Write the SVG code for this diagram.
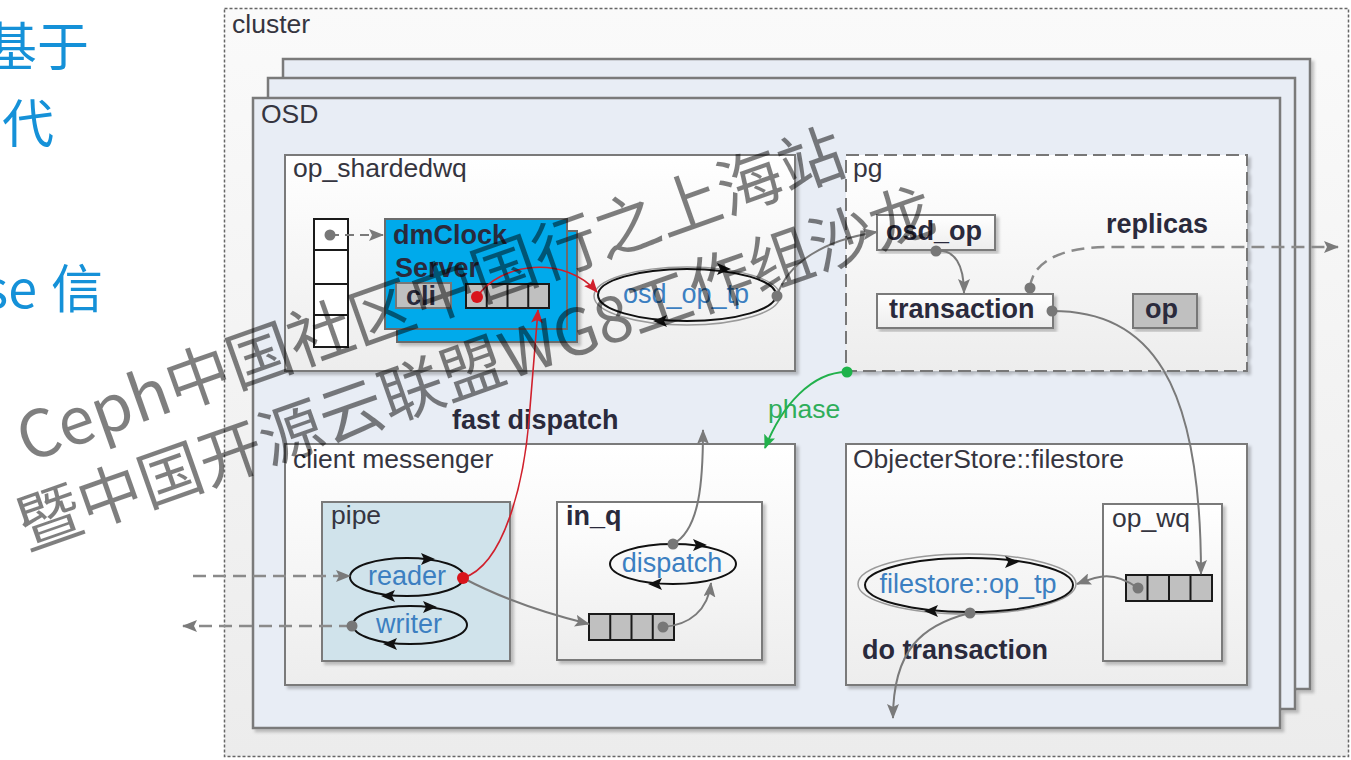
<svg xmlns="http://www.w3.org/2000/svg" xmlns:xlink="http://www.w3.org/1999/xlink" width="1351" height="760" viewBox="0 0 1351 760">
<style>
.lbl{font-family:"Liberation Sans",Arial,sans-serif;font-size:26.5px;fill:#353540}
.b{font-weight:bold;font-size:27px;fill:#2a2a3c}
.tp{fill:#3c7fc1;font-size:27px;text-anchor:middle}
.box{fill:url(#gBox);stroke:#7a7a7a;stroke-width:2}
.osd{fill:#e8edf5;stroke:#7a7a7a;stroke-width:2.5}
.q{fill:#c0c0c0;stroke:#1a1a1a;stroke-width:2}
.qw{fill:#fff;stroke:#1a1a1a;stroke-width:2}
.con{fill:none;stroke:#7a7a7a;stroke-width:2}
.dash{stroke-dasharray:13 7;stroke:#8a8a8a;stroke-width:2.5}
.ell{fill:none;stroke:#111;stroke-width:2}
.halo{fill:none;stroke:#9a9a9a;stroke-width:1.5}
.side{font-family:"Noto Sans CJK SC","Noto Sans",sans-serif;font-size:52px;fill:#1591d8}
.wm{font-family:"Noto Sans CJK SC",sans-serif;font-size:64px;fill:#000;fill-opacity:.5}
</style>
<defs>
  <linearGradient id="gCluster" x1="0" y1="0" x2="0" y2="1">
    <stop offset="0" stop-color="#fafafa"/><stop offset="1" stop-color="#ececec"/>
  </linearGradient>
  <linearGradient id="gBox" x1="0" y1="0" x2="0" y2="1">
    <stop offset="0" stop-color="#ffffff"/><stop offset="1" stop-color="#ededed"/>
  </linearGradient>
  <filter id="sh" x="-5%" y="-5%" width="115%" height="115%">
    <feDropShadow dx="3" dy="3" stdDeviation="1.5" flood-color="#000" flood-opacity="0.22"/>
  </filter>
  <marker id="mg" markerUnits="userSpaceOnUse" markerWidth="15" markerHeight="12" refX="14" refY="6" orient="auto">
    <path d="M0,0 L15,6 L0,12 L3,6 Z" fill="#7a7a7a"/>
  </marker>
  <marker id="mr" markerUnits="userSpaceOnUse" markerWidth="14" markerHeight="12" refX="13" refY="6" orient="auto">
    <path d="M0,0 L14,6 L0,12 L3,6 Z" fill="#d0202c"/>
  </marker>
  <marker id="mgr" markerUnits="userSpaceOnUse" markerWidth="14" markerHeight="12" refX="13" refY="6" orient="auto">
    <path d="M0,0 L14,6 L0,12 L3,6 Z" fill="#22b14c"/>
  </marker>
  <path id="hR" d="M7,0 L-7,-6 L-4,0 L-7,6 Z" fill="#111"/>
  <path id="hL" d="M-7,0 L7,-6 L4,0 L7,6 Z" fill="#111"/>
</defs>

<rect width="1351" height="760" fill="#fff"/>

<!-- partially visible slide text on the left -->
<g id="side-text">
  <text class="side" x="-15" y="66">基于</text>
  <text class="side" x="2" y="143">代</text>
  <text class="side" x="37" y="308" text-anchor="end">se</text>
  <text class="side" x="51" y="308">信</text>
</g>

<g id="cluster">
  <rect x="224.5" y="8.5" width="1124" height="748" fill="url(#gCluster)" stroke="#666" stroke-width="1.5" stroke-dasharray="3 2"/>
  <text class="lbl" x="232" y="33">cluster</text>
</g>

<g id="osd" filter="url(#sh)">
  <rect class="osd" x="283" y="59" width="1027" height="630"/>
  <rect class="osd" x="268" y="78" width="1027" height="631"/>
  <rect class="osd" x="253" y="98" width="1027" height="630"/>
</g>
<text class="lbl" x="261" y="123">OSD</text>

<g id="op_shardedwq">
  <rect class="box" x="285" y="155" width="510" height="216" filter="url(#sh)"/>
  <text class="lbl" x="293" y="177">op_shardedwq</text>
  <g id="shard-queue">
    <rect class="qw" x="314" y="219" width="34" height="128"/>
    <path d="M314,250H348M314,284H348M314,315H348" stroke="#1a1a1a" stroke-width="2"/>
  </g>
  <g id="dmclock">
    <rect x="397" y="231" width="180" height="111" fill="#00aaeb" stroke="#6b6b6b" stroke-width="2" filter="url(#sh)"/>
    <rect x="385" y="219" width="182" height="110" fill="#00aaeb" stroke="#6b6b6b" stroke-width="2"/>
    <text class="lbl b" x="393" y="244">dmClock</text>
    <text class="lbl b" x="395" y="277">Server</text>
    <rect x="396" y="283" width="55" height="25" fill="#c0c0c0" stroke="#777" stroke-width="2"/>
    <text class="lbl b" x="406" y="305">cli</text>
    <rect class="q" x="466" y="284" width="83" height="24"/>
    <path d="M486.75,284V308M507.5,284V308M528.25,284V308" stroke="#1a1a1a" stroke-width="2"/>
  </g>
  <g id="osd_op_tp">
    <ellipse class="halo" cx="687" cy="296" rx="93" ry="29"/>
    <ellipse class="ell" cx="687" cy="295" rx="89" ry="26"/>
    <use xlink:href="#hR" x="724" y="269"/>
    <use xlink:href="#hL" x="660" y="321"/>
    <text class="lbl tp" x="686" y="303">osd_op_tp</text>
  </g>
</g>

<g id="pg">
  <rect x="846" y="155" width="401" height="216" fill="url(#gBox)" stroke="#777" stroke-width="2" stroke-dasharray="13 6" filter="url(#sh)"/>
  <text class="lbl" x="853" y="177">pg</text>
  <g id="osd_op">
    <rect class="box" x="877" y="215" width="118" height="35" filter="url(#sh)"/>
    <text class="lbl b" x="886" y="240">osd_op</text>
  </g>
  <g id="transaction">
    <rect class="box" x="877" y="294" width="176" height="34" filter="url(#sh)"/>
    <text class="lbl b" x="889" y="318">transaction</text>
  </g>
  <g id="op">
    <rect x="1133" y="294" width="64" height="34" fill="#c0c0c0" stroke="#777" stroke-width="2" filter="url(#sh)"/>
    <text class="lbl b" x="1145" y="318">op</text>
  </g>
  <text class="lbl b" x="1106" y="233">replicas</text>
</g>

<g id="client_messenger">
  <rect class="box" x="285" y="444" width="510" height="241" filter="url(#sh)"/>
  <text class="lbl" x="293" y="468">client messenger</text>
  <g id="pipe">
    <rect x="322" y="502" width="188" height="159" fill="#d0e3eb" stroke="#7a7a7a" stroke-width="2" filter="url(#sh)"/>
    <text class="lbl" x="331" y="524">pipe</text>
    <g id="reader">
      <ellipse class="ell" cx="407" cy="577" rx="57" ry="19"/>
      <use xlink:href="#hR" x="428" y="559"/>
      <use xlink:href="#hL" x="388" y="596"/>
      <text class="lbl tp" x="407" y="585">reader</text>
    </g>
    <g id="writer">
      <ellipse class="ell" cx="410" cy="625" rx="57" ry="19"/>
      <use xlink:href="#hR" x="430" y="607"/>
      <use xlink:href="#hL" x="390" y="644"/>
      <text class="lbl tp" x="409" y="633">writer</text>
    </g>
  </g>
  <g id="in_q">
    <rect class="box" x="557" y="502" width="205" height="158" filter="url(#sh)"/>
    <text class="lbl b" x="566" y="525">in_q</text>
    <g id="dispatch">
      <ellipse class="ell" cx="673" cy="564" rx="63" ry="20"/>
      <use xlink:href="#hR" x="700" y="545"/>
      <use xlink:href="#hL" x="655" y="584"/>
      <text class="lbl tp" x="672" y="572">dispatch</text>
    </g>
    <rect class="q" x="589" y="614" width="85" height="26"/>
    <path d="M610.25,614V640M631.5,614V640M652.75,614V640" stroke="#1a1a1a" stroke-width="2"/>
  </g>
</g>

<g id="filestore">
  <rect class="box" x="846" y="444" width="401" height="241" filter="url(#sh)"/>
  <text class="lbl" x="853" y="468">ObjecterStore::filestore</text>
  <g id="op_tp">
    <ellipse class="halo" cx="967" cy="584" rx="109" ry="30"/>
    <ellipse class="ell" cx="969" cy="585" rx="104" ry="27"/>
    <use xlink:href="#hR" x="1012" y="562"/>
    <use xlink:href="#hL" x="931" y="611"/>
    <text class="lbl tp" x="968" y="593">filestore::op_tp</text>
  </g>
  <text class="lbl b" x="862" y="659">do transaction</text>
  <g id="op_wq">
    <rect class="box" x="1103" y="504" width="119" height="157" filter="url(#sh)"/>
    <text class="lbl" x="1112" y="527">op_wq</text>
    <rect class="q" x="1126" y="575" width="86" height="26"/>
    <path d="M1147.5,575V601M1169,575V601M1190.5,575V601" stroke="#1a1a1a" stroke-width="2"/>
  </g>
</g>

<text class="lbl b" x="452" y="429">fast dispatch</text>
<text class="lbl" x="768" y="418" style="fill:#2fae5a">phase</text>

<g id="connectors">
  <!-- shard queue slot to dmClock -->
  <path class="con" d="M330,235H383" stroke-dasharray="9 6" marker-end="url(#mg)"/>
  <circle cx="330" cy="235" r="5.5" fill="#777"/>
  <!-- osd_op_tp to osd_op -->
  <path class="con" d="M777,296C788,262 825,240 877,232" marker-end="url(#mg)"/>
  <circle cx="777" cy="296" r="5.5" fill="#777"/>
  <!-- osd_op to transaction -->
  <path class="con" d="M936,251C955,249 964,265 964,293" marker-end="url(#mg)"/>
  <circle cx="936" cy="251" r="5.5" fill="#777"/>
  <!-- replicas -->
  <path class="con dash" d="M1030,288C1032,262 1060,248 1105,247H1338" marker-end="url(#mg)"/>
  <circle cx="1030" cy="288" r="5.5" fill="#777"/>
  <!-- transaction to op_wq -->
  <path class="con" d="M1052,311C1150,311 1201,380 1201,574" marker-end="url(#mg)"/>
  <circle cx="1052" cy="311" r="5.5" fill="#777"/>
  <!-- op_wq to filestore::op_tp -->
  <path class="con" d="M1138,588C1112,570 1098,576 1077,584" marker-end="url(#mg)"/>
  <circle cx="1138" cy="588" r="5.5" fill="#777"/>
  <!-- do transaction -->
  <path class="con" d="M970,613C922,625 893,650 893,718" marker-end="url(#mg)"/>
  <circle cx="970" cy="613" r="5.5" fill="#777"/>
  <!-- phase -->
  <path d="M847,372C812,372 782,405 765,448" fill="none" stroke="#22b14c" stroke-width="2" marker-end="url(#mgr)"/>
  <circle cx="847" cy="372" r="5.5" fill="#1db34a"/>
  <!-- messenger in/out -->
  <path class="con dash" d="M193,576H350" marker-end="url(#mg)"/>
  <path class="con dash" d="M352,626H183" marker-end="url(#mg)"/>
  <circle cx="352" cy="626" r="5.5" fill="#777"/>
  <!-- reader to in_q -->
  <path class="con" d="M463,578C495,595 540,612 589,624" marker-end="url(#mg)"/>
  <!-- in_q to dispatch -->
  <path class="con" d="M663,627C690,625 708,610 711,583" marker-end="url(#mg)"/>
  <circle cx="663" cy="627" r="5.5" fill="#777"/>
  <!-- dispatch out -->
  <path class="con" d="M673,544C700,530 703,480 703,430" marker-end="url(#mg)"/>
  <circle cx="673" cy="544" r="5.5" fill="#777"/>
  <!-- fast dispatch (red) -->
  <path d="M463,578C505,565 524,480 529,420S536,335 538,310" fill="none" stroke="#d0202c" stroke-width="1.6" marker-end="url(#mr)"/>
  <path d="M477,297C500,262 565,255 597,292" fill="none" stroke="#d0202c" stroke-width="1.6" marker-end="url(#mr)"/>
  <circle cx="463" cy="578" r="6" fill="#d9141b"/>
  <circle cx="477" cy="297" r="6" fill="#d9141b"/>
</g>

<g id="watermark">
  <text class="wm" style="font-size:65px" transform="translate(27,463) rotate(-19.5)">Ceph中国社区中国行之上海站</text>
  <text class="wm" transform="translate(27,550) rotate(-19.4)">暨中国开源云联盟WG8工作组沙龙</text>
</g>
</svg>
